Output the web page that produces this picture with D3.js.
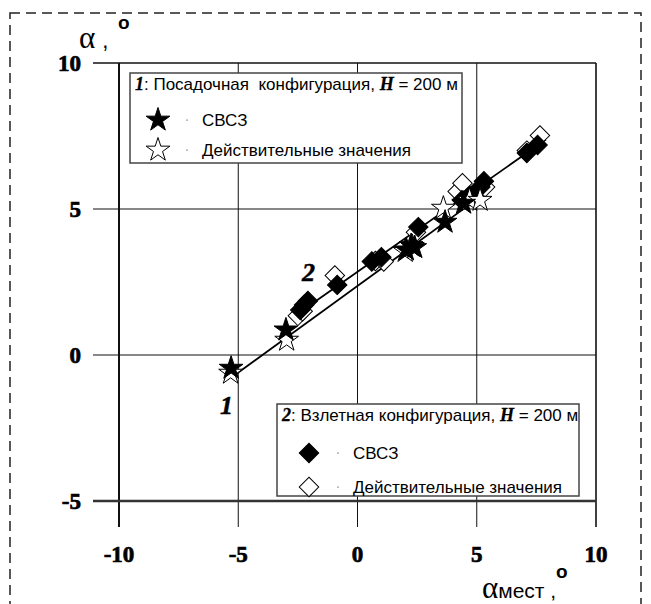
<!DOCTYPE html>
<html>
<head>
<meta charset="utf-8">
<script src="https://cdn.jsdelivr.net/npm/d3@7"></script>
<style>
  body { margin: 0; background: #fff; }
  svg text { white-space: pre; }
  .tick-lbl { font-family: "Liberation Serif"; font-weight: bold; font-size: 23px; stroke: #000; stroke-width: 0.7px; }
  .sans { font-family: "Liberation Sans"; font-size: 17px; }
  .num { font-family: "Liberation Serif"; font-weight: bold; font-style: italic; stroke: #000; stroke-width: 0.5px; }
</style>
</head>
<body>
<svg id="chart" width="651" height="604"></svg>
<script>
// --- данные ---
const xTicks = [-10, -5, 0, 5, 10];
const yTicks = [-5, 0, 5, 10];

// 1: посадочная конфигурация (звёзды)
const landSvsz = [[-5.3, -0.45], [-3.0, 0.86], [2.05, 3.6], [2.25, 3.75], [2.4, 3.68], [3.67, 4.55], [4.45, 5.2]];
const landTrue = [[-5.32, -0.62], [-2.97, 0.51], [2.0, 3.55], [2.3, 3.72], [3.6, 5.03], [4.7, 5.3], [5.14, 5.3]];

// 2: взлётная конфигурация (ромбы)
const takeSvsz = [[-2.4, 1.54], [-2.24, 1.71], [-2.08, 1.85], [-0.85, 2.4], [0.6, 3.2], [1.0, 3.35],
  [2.55, 4.38], [4.38, 5.3], [4.7, 5.45], [5.15, 5.75], [5.3, 5.95], [7.1, 6.92], [7.55, 7.19]];
const takeTrue = [[-2.5, 1.34], [-2.3, 1.5], [-0.95, 2.72], [0.75, 3.22], [1.1, 3.2], [2.45, 4.2],
  [4.2, 5.6], [4.4, 5.88], [5.35, 5.75], [7.1, 7.0], [7.65, 7.52]];

// линии аппроксимации
const fit1 = [[-5.3, -0.78], [5.2, 5.45]];
const fit2 = [[-2.7, 1.3], [7.9, 7.38]];

const svg = d3.select('#chart');

// пунктирная рамка вокруг рисунка
svg.append('rect')
  .attr('x', 10).attr('y', 13).attr('width', 631).attr('height', 620)
  .attr('fill', 'none').attr('stroke', '#222').attr('stroke-width', 1.5)
  .attr('stroke-dasharray', '10,6');

const x = d3.scaleLinear().domain([-10, 10]).range([119, 596]);
const y = d3.scaleLinear().domain([-5, 10]).range([501, 63]);

// сетка
svg.append('g').selectAll('line')
  .data(xTicks).enter().append('line')
  .attr('x1', d => x(d)).attr('x2', d => x(d))
  .attr('y1', y(10)).attr('y2', y(-5) + 26)
  .attr('stroke', '#111').attr('stroke-width', d => d === -10 ? 2 : (d === 10 ? 1.6 : 1));

svg.append('g').selectAll('line')
  .data(yTicks).enter().append('line')
  .attr('x1', x(-10) - 26).attr('x2', x(10))
  .attr('y1', d => y(d)).attr('y2', d => y(d))
  .attr('stroke', d => d === -5 ? '#333' : '#111')
  .attr('stroke-width', d => d === -5 ? 2.5 : (d === 10 ? 1.6 : 1));

// подписи делений
svg.append('g').selectAll('text')
  .data(xTicks).enter().append('text')
  .attr('class', 'tick-lbl')
  .attr('x', d => x(d)).attr('y', 562)
  .attr('text-anchor', 'middle')
  .text(d => d);

svg.append('g').selectAll('text')
  .data(yTicks).enter().append('text')
  .attr('class', 'tick-lbl')
  .attr('x', 81).attr('y', d => y(d) + 8)
  .attr('text-anchor', 'end')
  .text(d => d);

// подписи осей
const yt = svg.append('text').attr('x', 79).attr('y', 48);
yt.append('tspan').style('font-family', '"Liberation Serif"').style('font-size', '31px').text('α');
yt.append('tspan').attr('class', 'sans').style('font-size', '22px').attr('dx', 7).text(',');
svg.append('text').attr('x', 118).attr('y', 29)
  .style('font-family', '"Liberation Sans"').style('font-size', '19px').style('font-weight', 'bold').text('o');

const xt = svg.append('text').attr('x', 482).attr('y', 598);
xt.append('tspan').style('font-family', '"Liberation Serif"').style('font-size', '31px').text('α');
xt.append('tspan').attr('class', 'sans').style('font-size', '21px').text('мест ,');
svg.append('text').attr('x', 556).attr('y', 578)
  .style('font-family', '"Liberation Sans"').style('font-size', '19px').style('font-weight', 'bold').text('o');

// линии
const line = d3.line().x(d => x(d[0])).y(d => y(d[1]));
[fit1, fit2].forEach(f => {
  svg.append('path').attr('d', line(f))
    .attr('fill', 'none').attr('stroke', '#000').attr('stroke-width', 1.8);
});

// маркеры
const star = d3.symbol().type(d3.symbolStar).size(175);
const diamond = d3.symbol().type(d3.symbolSquare).size(190);

function drawMarks(data, gen, fill, rot) {
  svg.append('g').selectAll('path')
    .data(data).enter().append('path')
    .attr('d', gen)
    .attr('transform', d => `translate(${x(d[0])},${y(d[1])}) rotate(${rot})`)
    .attr('fill', fill).attr('stroke', '#000').attr('stroke-width', 1);
}
drawMarks(takeTrue, diamond, '#fff', 45);
drawMarks(takeSvsz, diamond, '#000', 45);
drawMarks(landTrue, star, '#fff', 0);
drawMarks(landSvsz, star, '#000', 0);

// номера кривых
svg.append('text').attr('class', 'num').attr('x', 220).attr('y', 414)
  .style('font-size', '26px').text('1');
svg.append('text').attr('class', 'num').attr('x', 302).attr('y', 281)
  .style('font-size', '26px').text('2');

// легенды
function legend(bx, by, bw, bh, num, label, sym, rot, rows) {
  const g = svg.append('g');
  g.append('rect').attr('x', bx).attr('y', by).attr('width', bw).attr('height', bh)
    .attr('fill', '#fff').attr('stroke', '#444').attr('stroke-width', 1.5);
  const t = g.append('text').attr('x', bx + 5).attr('y', by + 17);
  t.append('tspan').attr('class', 'num').style('font-size', '18px').style('stroke-width', '0.3px').text(num);
  t.append('tspan').attr('class', 'sans').text(label);
  t.append('tspan').attr('class', 'num').style('font-size', '18px').style('stroke-width', '0.3px').text('H');
  t.append('tspan').attr('class', 'sans').text(' = 200 м');
  rows.forEach((r, i) => {
    const cy = by + rows.offsets[i];
    g.append('path').attr('d', sym)
      .attr('transform', `translate(${bx + rows.symX},${cy}) rotate(${rot})`)
      .attr('fill', r.fill).attr('stroke', '#000').attr('stroke-width', 1);
    g.append('circle').attr('cx', bx + rows.symX + 29).attr('cy', cy).attr('r', 0.6).attr('fill', '#000');
    g.append('text').attr('class', 'sans').attr('x', bx + rows.symX + 44).attr('y', cy + 6)
      .text(r.text);
  });
}

const rows1 = [{ fill: '#000', text: 'СВСЗ' }, { fill: '#fff', text: 'Действительные значения' }];
rows1.offsets = [47, 77]; rows1.symX = 28;
legend(130, 73, 332, 90, '1', ': Посадочная  конфигурация, ', star, 0, rows1);

const rows2 = [{ fill: '#000', text: 'СВСЗ' }, { fill: '#fff', text: 'Действительные значения' }];
rows2.offsets = [49, 83]; rows2.symX = 32;
legend(277, 404, 302, 92, '2', ': Взлетная конфигурация, ', diamond, 45, rows2);
</script>
</body>
</html>
